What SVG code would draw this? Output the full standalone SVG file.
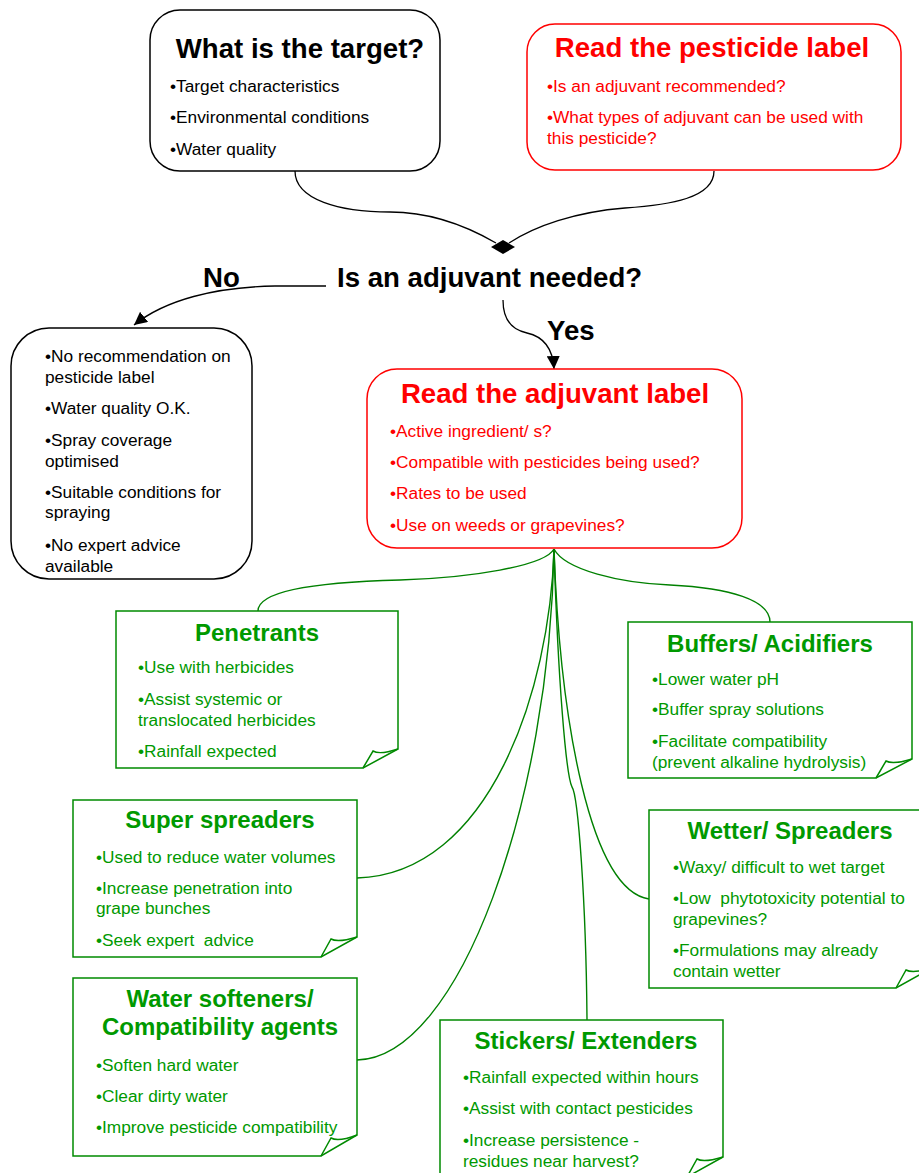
<svg xmlns="http://www.w3.org/2000/svg" width="919" height="1173" viewBox="0 0 919 1173">
<defs>
<style>
text{font-family:"Liberation Sans",Arial,sans-serif;white-space:pre}
.t{font-size:27.6px;font-weight:bold}
.g{font-size:24px;font-weight:bold;fill:#009900;text-anchor:middle}
.b{font-size:17.3px}
.blk{fill:#000}
.red{fill:#ff0000}
.grn{fill:#009900}
.rb{fill:#fff;stroke:#000;stroke-width:1.5}
.rr{fill:#fff;stroke:#ff0000;stroke-width:1.5}
.note{fill:#fff;stroke:#008a00;stroke-width:1.5;stroke-linejoin:miter}
.fold{fill:none;stroke:#008a00;stroke-width:1.5}
.ck{fill:none;stroke:#000;stroke-width:1.3}
.cg{fill:none;stroke:#008000;stroke-width:1.4}
</style>
<marker id="arr" viewBox="0 0 10 10" refX="10" refY="5" markerWidth="13" markerHeight="13" markerUnits="userSpaceOnUse" orient="auto">
<path d="M0,0 L10,5 L0,10 Z" fill="#000"/>
</marker>
</defs>

<g id="connectors">
<path class="ck" d="M295,171 C295,200 340,212 390,212 C430,212 465,225 496,243"/>
<path class="ck" d="M714,171 C714,198 670,205 625,208 C575,212 535,226 509,243"/>
<path d="M491,247 L503,240 L515,247 L503,254 Z" fill="#000"/>
<path class="ck" d="M326,286 L275,286 C215,287 165,300 134,325" marker-end="url(#arr)"/>
<path class="ck" d="M503,300 C503,320 512,330 527,333 C545,337 553,350 554,369" marker-end="url(#arr)"/>
<path class="cg" d="M554,549 C545,566 470,578 400,580 C320,582 258,590 258,611"/>
<path class="cg" d="M554,549 C565,570 620,583 670,585 C730,588 770,600 770,622"/>
<path class="cg" d="M554,549 C550,690 490,874 357,878"/>
<path class="cg" d="M554,549 C550,800 460,1058 357,1060"/>
<path class="cg" d="M554,549 C558,680 566,775 572,787 C578,795 586,900 587,1020"/>
<path class="cg" d="M554,549 C560,720 590,890 649,899"/>
</g>

<g id="target">
<rect class="rb" x="150" y="10" width="290" height="161" rx="30"/>
<text class="t blk" x="300" y="58" text-anchor="middle">What is the target?</text>
<text class="b blk" x="170" y="92">•Target characteristics</text>
<text class="b blk" x="170" y="123">•Environmental conditions</text>
<text class="b blk" x="170" y="155">•Water quality</text>
</g>

<g id="pesticide-label">
<rect class="rr" x="527" y="24" width="374" height="146" rx="28"/>
<text class="t red" x="712" y="57" text-anchor="middle">Read the pesticide label</text>
<text class="b red" x="547" y="92">•Is an adjuvant recommended?</text>
<text class="b red" x="547" y="123">•What types of adjuvant can be used with</text>
<text class="b red" x="547" y="144">this pesticide?</text>
</g>

<g id="question">
<text class="t blk" x="337" y="287">Is an adjuvant needed?</text>
<text class="t blk" x="203" y="287">No</text>
<text class="t blk" x="547" y="340">Yes</text>
</g>

<g id="no-box">
<rect class="rb" x="11" y="328" width="241" height="251" rx="38"/>
<text class="b blk" x="45" y="362">•No recommendation on</text>
<text class="b blk" x="45" y="383">pesticide label</text>
<text class="b blk" x="45" y="414">•Water quality O.K.</text>
<text class="b blk" x="45" y="446">•Spray coverage</text>
<text class="b blk" x="45" y="467">optimised</text>
<text class="b blk" x="45" y="498">•Suitable conditions for</text>
<text class="b blk" x="45" y="518">spraying</text>
<text class="b blk" x="45" y="551">•No expert advice</text>
<text class="b blk" x="45" y="572">available</text>
</g>

<g id="adjuvant-label">
<rect class="rr" x="367" y="369" width="375" height="179" rx="30"/>
<text class="t red" x="555" y="403" text-anchor="middle">Read the adjuvant label</text>
<text class="b red" x="390" y="437">•Active ingredient/ s?</text>
<text class="b red" x="390" y="468">•Compatible with pesticides being used?</text>
<text class="b red" x="390" y="499">•Rates to be used</text>
<text class="b red" x="390" y="531">•Use on weeds or grapevines?</text>
</g>

<g id="penetrants">
<path class="note" d="M116,611 H398 V749 L363,768 H116 Z"/>
<path class="fold" d="M363,768 L373,751 C378,754 386,753 398,749"/>
<text class="g" x="257" y="641">Penetrants</text>
<text class="b grn" x="138" y="673">•Use with herbicides</text>
<text class="b grn" x="138" y="705">•Assist systemic or</text>
<text class="b grn" x="138" y="726">translocated herbicides</text>
<text class="b grn" x="138" y="757">•Rainfall expected</text>
</g>

<g id="buffers">
<path class="note" d="M628,622 H912 V759 L876,778 H628 Z"/>
<path class="fold" d="M876,778 L886,761 C891,764 899,763 912,759"/>
<text class="g" x="770" y="652">Buffers/ Acidifiers</text>
<text class="b grn" x="652" y="685">•Lower water pH</text>
<text class="b grn" x="652" y="715">•Buffer spray solutions</text>
<text class="b grn" x="652" y="747">•Facilitate compatibility</text>
<text class="b grn" x="652" y="768">(prevent alkaline hydrolysis)</text>
</g>

<g id="super-spreaders">
<path class="note" d="M73,800 H357 V937 L321,957 H73 Z"/>
<path class="fold" d="M321,957 L331,939 C336,942 344,941 357,937"/>
<text class="g" x="220" y="828">Super spreaders</text>
<text class="b grn" x="96" y="863">•Used to reduce water volumes</text>
<text class="b grn" x="96" y="894">•Increase penetration into</text>
<text class="b grn" x="96" y="914">grape bunches</text>
<text class="b grn" x="96" y="946">•Seek expert  advice</text>
</g>

<g id="wetter-spreaders">
<path class="note" d="M649,810 H932 V968 L896,988 H649 Z"/>
<path class="fold" d="M896,988 L906,970 C911,973 919,972 932,968"/>
<text class="g" x="790" y="839">Wetter/ Spreaders</text>
<text class="b grn" x="673" y="873">•Waxy/ difficult to wet target</text>
<text class="b grn" x="673" y="904">•Low  phytotoxicity potential to</text>
<text class="b grn" x="673" y="925">grapevines?</text>
<text class="b grn" x="673" y="956">•Formulations may already</text>
<text class="b grn" x="673" y="977">contain wetter</text>
</g>

<g id="water-softeners">
<path class="note" d="M73,978 H357 V1135 L321,1156 H73 Z"/>
<path class="fold" d="M321,1156 L331,1138 C336,1141 344,1140 357,1135"/>
<text class="g" x="220" y="1007">Water softeners/</text>
<text class="g" x="220" y="1035">Compatibility agents</text>
<text class="b grn" x="96" y="1071">•Soften hard water</text>
<text class="b grn" x="96" y="1102">•Clear dirty water</text>
<text class="b grn" x="96" y="1133">•Improve pesticide compatibility</text>
</g>

<g id="stickers">
<path class="note" d="M440,1020 H723 V1157 L687,1177 H440 Z"/>
<path class="fold" d="M687,1177 L697,1159 C702,1162 710,1161 723,1157"/>
<text class="g" x="586" y="1049">Stickers/ Extenders</text>
<text class="b grn" x="463" y="1083">•Rainfall expected within hours</text>
<text class="b grn" x="463" y="1114">•Assist with contact pesticides</text>
<text class="b grn" x="463" y="1146">•Increase persistence -</text>
<text class="b grn" x="463" y="1167">residues near harvest?</text>
</g>
</svg>
